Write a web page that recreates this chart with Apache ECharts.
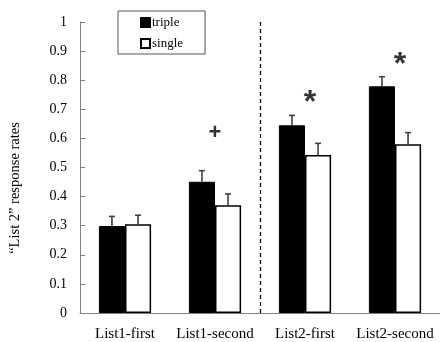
<!DOCTYPE html>
<html>
<head>
<meta charset="utf-8">
<script src="https://cdn.jsdelivr.net/npm/echarts@6/dist/echarts.min.js"></script>
<style>html,body{margin:0;padding:0;background:#fff;}#c{width:440px;height:342px;}</style>
</head>
<body>
<div id="c"></div>
<script>
const categories = ['List1-first', 'List1-second', 'List2-first', 'List2-second'];
const tripleValues = [0.299, 0.451, 0.645, 0.779];
const tripleErrors = [0.033, 0.038, 0.034, 0.033];
const singleValues = [0.305, 0.370, 0.543, 0.580];
const singleErrors = [0.031, 0.039, 0.040, 0.040];
const markTexts = ['', '+', '*', '*'];
const markLevels = [null, 0.62, 0.72, 0.85];
const yTicks = { min: 0, max: 1, interval: 0.1 };
const dividerAt = 2;

const serif = '"Liberation Serif", "DejaVu Serif", serif';
const axisGray = '#808080';
const barFrac = 0.29;

function errorSeries(values, errors, side) {
  return {
    type: 'custom',
    xAxisIndex: 0,
    yAxisIndex: 0,
    silent: true,
    z: 5,
    data: values.map((v, i) => [i, v, v + errors[i]]),
    renderItem: function (params, api) {
      const i = api.value(0);
      const bottom = api.coord([i, api.value(1)]);
      const top = api.coord([i, api.value(2)]);
      const band = api.size([1, 0])[0];
      const x = bottom[0] + side * band * barFrac / 2;
      const capW = 3;
      const style = { stroke: '#404040', lineWidth: 1.6 };
      return {
        type: 'group',
        children: [
          { type: 'line', shape: { x1: x, y1: bottom[1], x2: x, y2: top[1] }, style: style },
          { type: 'line', shape: { x1: x - capW, y1: top[1], x2: x + capW, y2: top[1] }, style: style }
        ]
      };
    }
  };
}

const markData = markLevels.map((v, i) => v === null ? null : {
  value: [i, v],
  name: markTexts[i],
  label: markTexts[i] === '*' ? { fontSize: 32, offset: [5, 0] } : { fontSize: 22 }
}).filter(d => d);

const chart = echarts.init(document.getElementById('c'), null, { renderer: 'canvas' });
chart.setOption({
  animation: false,
  backgroundColor: '#fff',
  grid: { left: 80, top: 22, width: 363, height: 291, containLabel: false },
  legend: {
    orient: 'vertical',
    left: 118,
    top: 11,
    data: ['triple', 'single'],
    icon: 'rect',
    itemWidth: 9,
    itemHeight: 9,
    itemGap: 8,
    padding: [5, 22, 4, 22],
    borderColor: '#555',
    borderWidth: 1,
    textStyle: { fontFamily: serif, fontSize: 13, color: '#000', padding: [0, 0, 0, -3] }
  },
  xAxis: [
    {
      type: 'category',
      data: categories,
      axisLine: { lineStyle: { color: axisGray, width: 1 } },
      axisTick: { inside: true, length: 4, lineStyle: { color: axisGray } },
      axisLabel: { fontFamily: serif, fontSize: 15, color: '#000', margin: 14, interval: 0 },
      splitLine: { show: false }
    },
    {
      type: 'value',
      min: 0,
      max: categories.length,
      show: false
    }
  ],
  yAxis: {
    type: 'value',
    min: yTicks.min,
    max: yTicks.max,
    interval: yTicks.interval,
    axisLine: { show: true, lineStyle: { color: axisGray, width: 1 } },
    axisTick: { show: true, inside: true, length: 5, lineStyle: { color: axisGray } },
    axisLabel: { fontFamily: serif, fontSize: 14, color: '#000', margin: 13 },
    splitLine: { show: false }
  },
  graphic: [
    {
      type: 'text',
      x: 15,
      y: 188,
      rotation: Math.PI / 2,
      style: {
        text: '\u201cList 2\u201d response rates',
        font: '14.5px ' + serif,
        fill: '#000',
        align: 'center',
        verticalAlign: 'middle'
      }
    }
  ],
  series: [
    {
      name: 'triple',
      type: 'bar',
      data: tripleValues,
      barWidth: (barFrac * 100) + '%',
      barGap: '0%',
      itemStyle: { color: '#000', borderColor: '#000', borderWidth: 1 }
    },
    {
      name: 'single',
      type: 'bar',
      data: singleValues,
      barWidth: (barFrac * 100) + '%',
      barGap: '0%',
      itemStyle: { color: '#fff', borderColor: '#000', borderWidth: 1.5 }
    },
    errorSeries(tripleValues, tripleErrors, -1),
    errorSeries(singleValues, singleErrors, 1),
    {
      type: 'scatter',
      xAxisIndex: 0,
      symbolSize: 1,
      itemStyle: { color: 'rgba(0,0,0,0)' },
      silent: true,
      data: markData,
      label: {
        show: true,
        position: 'inside',
        formatter: function (p) { return p.name; },
        fontFamily: 'Arial, "Liberation Sans", sans-serif',
        fontWeight: 'bold',
        color: '#000'
      }
    },
    {
      type: 'scatter',
      xAxisIndex: 1,
      symbolSize: 0,
      silent: true,
      data: [[dividerAt, 0]],
      markLine: {
        silent: true,
        symbol: 'none',
        label: { show: false },
        lineStyle: { color: '#000', type: [4, 3], width: 1.3 },
        data: [{ xAxis: dividerAt }]
      }
    }
  ]
});
</script>
</body>
</html>
